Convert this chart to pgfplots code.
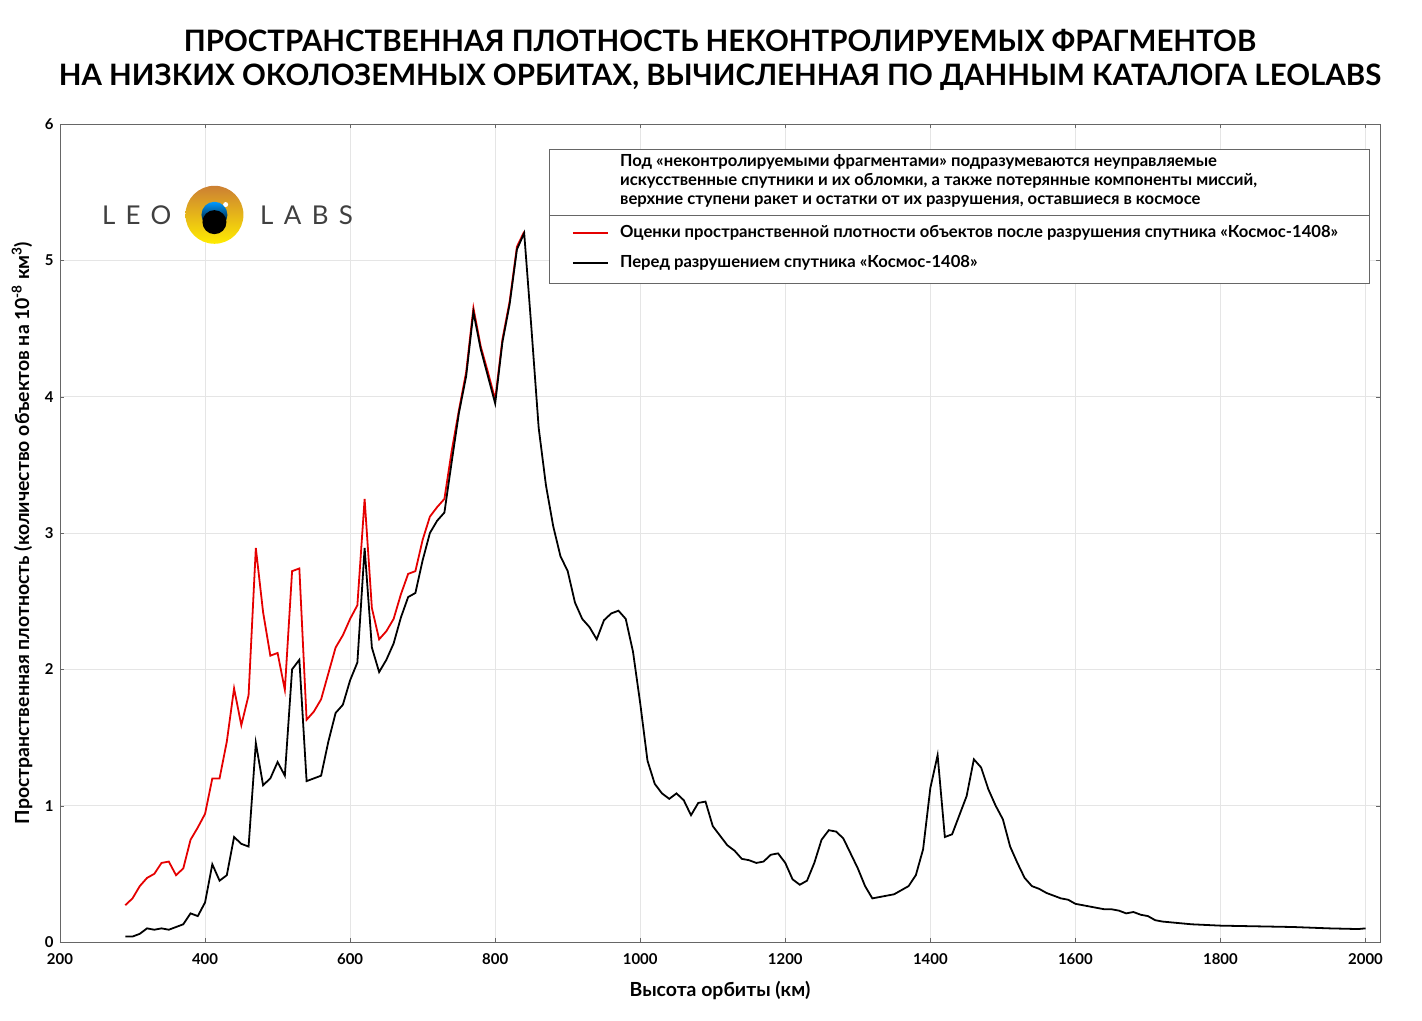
\documentclass[border=0pt]{standalone}
\usepackage{pgfplots}
\pgfplotsset{compat=1.18}
\usepackage{fontspec}
\setmainfont{Lato}
\begin{document}
\begin{tikzpicture}[x=1bp,y=1bp]
\path[use as bounding box] (-60,-78) rectangle (1362,942);
\begin{axis}[at={(0,0)},anchor=origin, scale only axis, width=1320bp, height=818bp,
 xmin=200,xmax=2020,ymin=0,ymax=6,
 xtick={200,400,...,2000}, ytick={0,1,...,6},
 grid=major, grid style={gray!20},
 tick style={black!60}, axis line style={black!60},
 tick label style={font=\fontsize{15}{17}\selectfont\bfseries},
 xticklabel style={yshift=-8bp}, yticklabel style={xshift=-3bp},
 /pgf/number format/assume math mode=true,
 scaled x ticks=false, /pgf/number format/1000 sep={},
 xlabel={\fontsize{19.5}{22}\selectfont\bfseries Высота орбиты (км)},
 ylabel={\fontsize{19.5}{22}\selectfont\bfseries Пространственная плотность (количество объектов на 10\textsuperscript{-8} км\textsuperscript{3})},
 xlabel style={at={(axis description cs:0.5,0)},yshift=-36bp},
 ylabel style={at={(axis description cs:0,0.5)},yshift=24bp},
 clip=false]
\addplot[red!90!black, line width=1.8pt] coordinates {
(290,0.27)(300,0.32)(310,0.41)(320,0.47)(330,0.50)(340,0.58)(350,0.59)(360,0.49)(370,0.54)(380,0.75)(390,0.84)(400,0.94)(410,1.20)(420,1.20)(430,1.47)(440,1.86)(450,1.59)(460,1.81)(470,2.89)(480,2.42)(490,2.10)(500,2.12)(510,1.85)(520,2.72)(530,2.74)(540,1.63)(550,1.69)(560,1.78)(570,1.97)(580,2.16)(590,2.25)(600,2.37)(610,2.47)(620,3.25)(630,2.45)(640,2.22)(650,2.28)(660,2.37)(670,2.55)(680,2.70)(690,2.72)(700,2.95)(710,3.12)(720,3.19)(730,3.25)(740,3.60)(750,3.90)(760,4.18)(770,4.65)(780,4.37)(790,4.18)(800,3.98)(810,4.42)(820,4.70)(830,5.10)(840,5.21)};
\addplot[black, line width=1.8pt] coordinates {
(290,0.04)(300,0.04)(310,0.06)(320,0.10)(330,0.09)(340,0.10)(350,0.09)(360,0.11)(370,0.13)(380,0.21)(390,0.19)(400,0.29)(410,0.57)(420,0.45)(430,0.49)(440,0.77)(450,0.72)(460,0.70)(470,1.46)(480,1.15)(490,1.20)(500,1.32)(510,1.22)(520,2.00)(530,2.07)(540,1.18)(550,1.20)(560,1.22)(570,1.47)(580,1.68)(590,1.74)(600,1.92)(610,2.05)(620,2.89)(630,2.16)(640,1.98)(650,2.07)(660,2.19)(670,2.38)(680,2.53)(690,2.56)(700,2.80)(710,3.00)(720,3.09)(730,3.15)(740,3.52)(750,3.88)(760,4.15)(770,4.62)(780,4.35)(790,4.15)(800,3.95)(810,4.40)(820,4.68)(830,5.08)(840,5.20)(850,4.50)(860,3.77)(870,3.35)(880,3.05)(890,2.83)(900,2.72)(910,2.49)(920,2.37)(930,2.31)(940,2.22)(950,2.36)(960,2.41)(970,2.43)(980,2.37)(990,2.13)(1000,1.75)(1010,1.33)(1020,1.16)(1030,1.09)(1040,1.05)(1050,1.09)(1060,1.04)(1070,0.93)(1080,1.02)(1090,1.03)(1100,0.85)(1110,0.78)(1120,0.71)(1130,0.67)(1140,0.61)(1150,0.60)(1160,0.58)(1170,0.59)(1180,0.64)(1190,0.65)(1200,0.58)(1210,0.46)(1220,0.42)(1230,0.45)(1240,0.58)(1250,0.75)(1260,0.82)(1270,0.81)(1280,0.76)(1290,0.65)(1300,0.54)(1310,0.41)(1320,0.32)(1330,0.33)(1340,0.34)(1350,0.35)(1360,0.38)(1370,0.41)(1380,0.49)(1390,0.68)(1400,1.13)(1410,1.37)(1420,0.77)(1430,0.79)(1440,0.93)(1450,1.07)(1460,1.34)(1470,1.28)(1480,1.12)(1490,1.00)(1500,0.90)(1510,0.70)(1520,0.58)(1530,0.47)(1540,0.41)(1550,0.39)(1560,0.36)(1570,0.34)(1580,0.32)(1590,0.31)(1600,0.28)(1610,0.27)(1620,0.26)(1630,0.25)(1640,0.24)(1650,0.24)(1660,0.23)(1670,0.21)(1680,0.22)(1690,0.20)(1700,0.19)(1710,0.16)(1720,0.15)(1740,0.14)(1760,0.13)(1800,0.12)(1850,0.115)(1900,0.11)(1950,0.10)(1990,0.095)(2000,0.10)};
% legend box
\draw[black!60, fill=white] (axis description cs:0.3705,0.8056) rectangle (axis description cs:0.9917,0.9694);
\draw[black!60] (axis description cs:0.3705,0.8888) -- (axis description cs:0.9917,0.8888);
\node[anchor=north west, align=left, font=\fontsize{16.7}{19}\selectfont\bfseries, inner sep=0pt] at (axis description cs:0.4242,0.963) {Под «неконтролируемыми фрагментами» подразумеваются неуправляемые\\искусственные спутники и их обломки, а также потерянные компоненты миссий,\\верхние ступени ракет и остатки от их разрушения, оставшиеся в космосе};
\draw[red!90!black, line width=1.8pt] (axis description cs:0.3886,0.8667) -- (axis description cs:0.4152,0.8667);
\draw[black, line width=1.8pt] (axis description cs:0.3886,0.830) -- (axis description cs:0.4152,0.830);
\node[anchor=west, font=\fontsize{16.7}{17}\selectfont\bfseries, inner sep=0pt] at (axis description cs:0.4242,0.8667) {Оценки пространственной плотности объектов после разрушения спутника «Космос-1408»};
\node[anchor=west, font=\fontsize{16.7}{17}\selectfont\bfseries, inner sep=0pt] at (axis description cs:0.4242,0.830) {Перед разрушением спутника «Космос-1408»};
% logo
\shade[top color=brown!80!orange, bottom color=yellow!85!orange] (axis description cs:0.117,0.889) circle (29bp);
\shade[top color=cyan!60!blue, bottom color=black] (axis description cs:0.117,0.889) circle (13bp);
\fill[black] (axis description cs:0.117,0.880) circle (12bp);
\fill[white] (axis description cs:0.1255,0.9015) circle (2.5bp);
\node[font=\fontsize{26}{28}\selectfont\addfontfeature{LetterSpace=40}, anchor=east, black!75] at (axis description cs:0.087,0.889) {LEO};
\node[font=\fontsize{26}{28}\selectfont\addfontfeature{LetterSpace=40}, anchor=west, black!75] at (axis description cs:0.149,0.889) {LABS};
\end{axis}
\node[font=\fontsize{29.6}{34}\selectfont\bfseries, align=center] at (660,882) {ПРОСТРАНСТВЕННАЯ ПЛОТНОСТЬ НЕКОНТРОЛИРУЕМЫХ ФРАГМЕНТОВ\\НА НИЗКИХ ОКОЛОЗЕМНЫХ ОРБИТАХ, ВЫЧИСЛЕННАЯ ПО ДАННЫМ КАТАЛОГА LEOLABS};
\end{tikzpicture}
\end{document}
